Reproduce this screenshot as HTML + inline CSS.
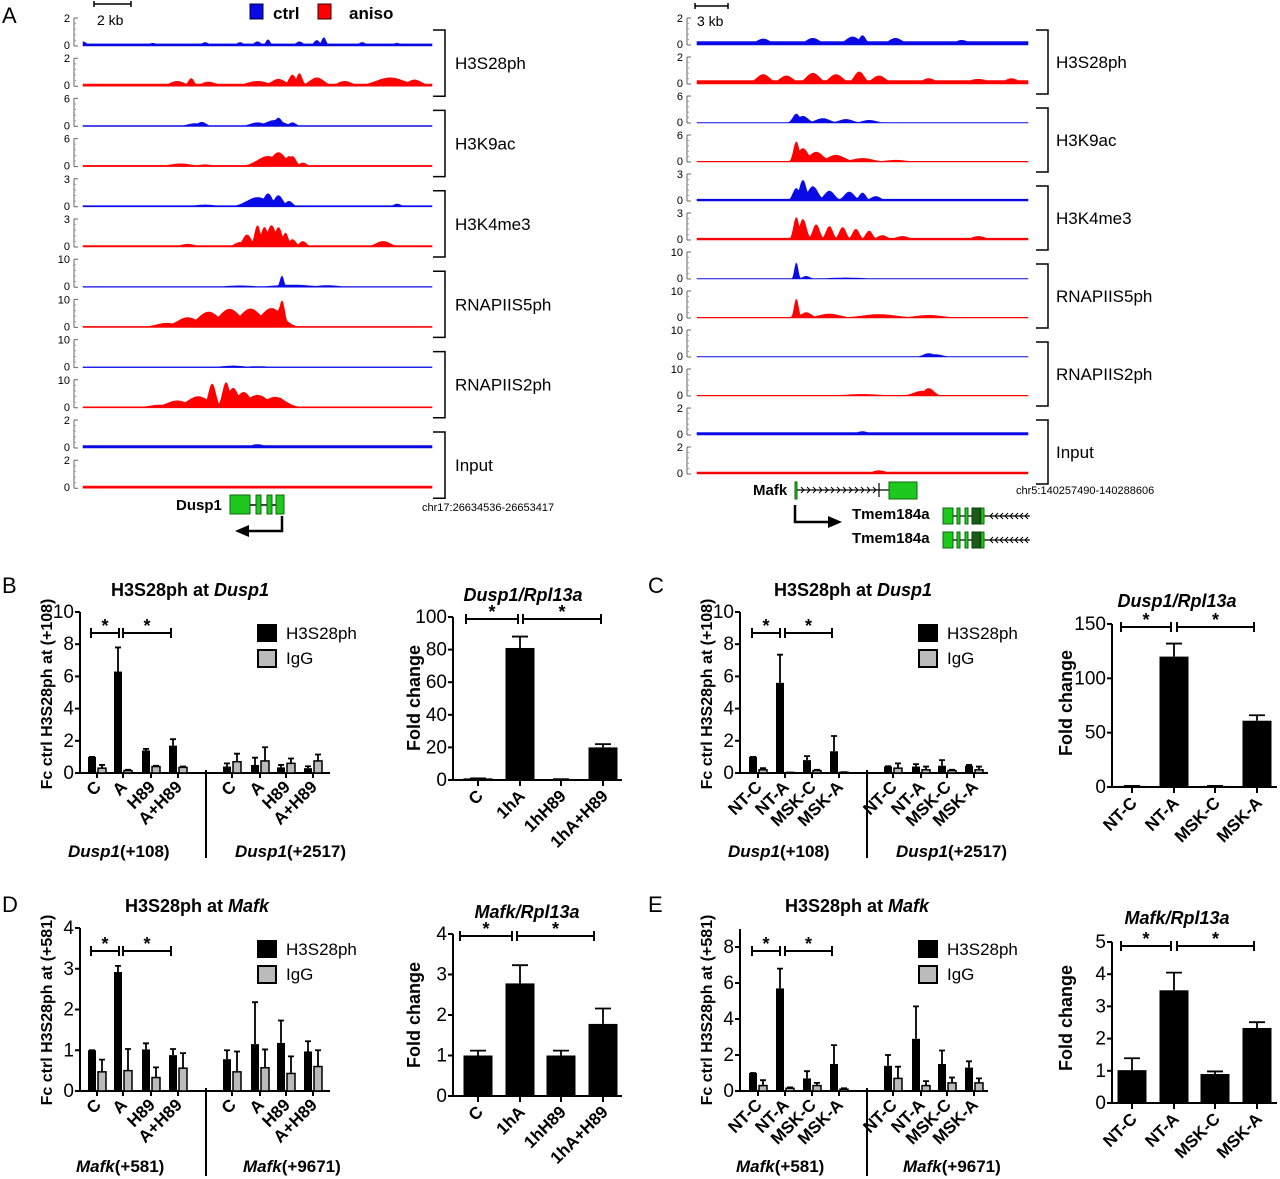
<!DOCTYPE html>
<html><head><meta charset="utf-8"><style>
body{margin:0;background:#fff}
svg{display:block;font-family:"Liberation Sans",Arial,sans-serif}
</style></head><body>
<svg id="fig" width="1280" height="1179" viewBox="0 0 1280 1179" xmlns="http://www.w3.org/2000/svg">
<rect width="1280" height="1179" fill="#fff"/>
<g font-size="22">
<text x="2" y="23">A</text>
<text x="2" y="593">B</text>
<text x="648" y="593">C</text>
<text x="2" y="912">D</text>
<text x="648" y="912">E</text>
</g>
<g font-weight="bold" font-size="17">
<rect x="250" y="4" width="13" height="15" fill="#0a0ae6" stroke="#003"/>
<text x="273" y="19">ctrl</text>
<rect x="318" y="4" width="13" height="15" fill="#f00" stroke="#300"/>
<text x="349" y="19">aniso</text>
</g>
<g font-size="14">
<path d="M94 4H131M94 1V7M131 1V7" stroke="#000" stroke-width="1.5" fill="none"/>
<text x="97" y="25">2 kb</text>
<path d="M695 6H728M695 3V9M728 3V9" stroke="#000" stroke-width="1.5" fill="none"/>
<text x="697" y="26">3 kb</text>
</g>
<g id="tracks"></g>
<g>
<text x="176" y="510" font-weight="bold" font-size="15">Dusp1</text>
<path d="M250 505H276" stroke="#000" stroke-width="1.5"/>
<rect x="230" y="495" width="20" height="19" fill="#1ec81e" stroke="#0a6a0a"/>
<rect x="256" y="495" width="5" height="19" fill="#1ec81e" stroke="#0a6a0a"/>
<rect x="267" y="495" width="5" height="19" fill="#1ec81e" stroke="#0a6a0a"/>
<rect x="276" y="495" width="8" height="19" fill="#1ec81e" stroke="#0a6a0a"/>
<path d="M282 516V531H247" stroke="#000" stroke-width="2.5" fill="none"/>
<path d="M235 531L249 525V537Z" fill="#000"/>
<text x="422" y="511" font-size="11">chr17:26634536-26653417</text>
<text x="753" y="495" font-weight="bold" font-size="15">Mafk</text>
<path d="M797 490H889M879 483V497" stroke="#000" stroke-width="1.2"/>
<path id="mafkChev" d="" stroke="#000" stroke-width="1" fill="none"/>
<rect x="795" y="482" width="2" height="17" fill="#1ec81e" stroke="#0a6a0a"/>
<rect x="889" y="482" width="28" height="17" fill="#1ec81e" stroke="#0a6a0a"/>
<path d="M795 505V522H830" stroke="#000" stroke-width="2.5" fill="none"/>
<path d="M842 522L828 516V528Z" fill="#000"/>
<text x="1016" y="494" font-size="11">chr5:140257490-140288606</text>
<text x="852" y="519" font-weight="bold" font-size="15">Tmem184a</text>
<text x="852" y="543" font-weight="bold" font-size="15">Tmem184a</text>
<g id="tmem"></g>
</g>
<g id="charts"></g>
</svg>
<script>
// ---------- genome track data: peaks [position 0-1, height, width] ----------
const trackLabels = ["H3S28ph","H3K9ac","H3K4me3","RNAPIIS5ph","RNAPIIS2ph","Input"];
const trackMax = [2,6,3,10,10,2];
const leftBase = [[.15,.15],[.2,.25],[.12,.15],[.25,.35],[.25,.35],[.18,.15]];
const leftPeaksCtrl = [
 [[.0,.3,.01],[.2,.2,.01],[.35,.25,.01],[.45,.25,.01],[.5,.3,.01],[.53,.45,.006],[.62,.3,.01],[.67,.4,.008],[.69,.6,.006],[.8,.25,.01],[.9,.2,.01]],
 [[.32,.6,.02],[.34,.9,.012],[.5,.8,.02],[.55,1.3,.025],[.56,1.8,.01],[.6,.8,.01]],
 [[.5,1.0,.03],[.53,1.4,.012],[.56,1.2,.012],[.59,.6,.01],[.35,.2,.03],[.9,.3,.01]],
 [[.45,.5,.04],[.6,.8,.05],[.7,.6,.03],[.57,4,.005]],
 [[.43,.6,.03],[.5,.4,.03]],
 [[.5,.25,.02]]];
const leftPeaksAniso = [
 [[.27,.35,.02],[.31,.55,.008],[.36,.3,.02],[.5,.35,.03],[.56,.5,.02],[.6,.8,.01],[.62,.9,.008],[.67,.6,.02],[.75,.35,.02],[.88,.6,.04],[.95,.45,.02]],
 [[.28,.6,.03],[.35,.4,.02],[.53,2.2,.03],[.56,3.0,.02],[.59,2.2,.01],[.6,2.2,.01],[.63,.8,.01]],
 [[.3,.3,.02],[.45,.5,.015],[.47,1.3,.012],[.5,2.3,.008],[.52,2.1,.01],[.54,2.3,.012],[.56,2.1,.01],[.58,1.5,.008],[.6,.8,.01],[.63,.6,.01],[.86,.6,.02]],
 [[.24,1.5,.03],[.3,3.5,.03],[.36,5.5,.03],[.42,6.5,.03],[.48,6.6,.03],[.54,6.8,.03],[.57,9.5,.008],[.565,7,.01]],
 [[.22,1.0,.03],[.27,2.5,.03],[.33,4,.03],[.37,8.5,.01],[.41,9,.01],[.43,7,.015],[.46,5.5,.02],[.5,4.5,.03],[.55,3.8,.03],[.565,3.5,.01]],
 [[.5,.15,.02]]];
const rightBase = [[.25,.25],[.12,.15],[.2,.2],[.2,.25],[.15,.25],[.18,.15]];
const rightPeaksCtrl = [
 [[.2,.45,.02],[.35,.5,.02],[.47,.6,.02],[.5,.7,.01],[.6,.5,.02],[.8,.35,.02]],
 [[.3,2,.01],[.32,1.5,.015],[.38,1.0,.02],[.45,.8,.02],[.52,.6,.02]],
 [[.3,1.4,.01],[.32,2.3,.01],[.35,1.6,.015],[.4,1.1,.015],[.46,1.0,.015],[.5,.9,.01],[.54,.5,.015]],
 [[.3,6,.005],[.33,1,.01],[.45,.4,.05]],
 [[.7,1.3,.015],[.72,.9,.02]],
 [[.5,.25,.02]]];
const rightPeaksAniso = [
 [[.2,.7,.02],[.27,.6,.02],[.35,.8,.02],[.42,.7,.02],[.49,.9,.015],[.55,.6,.02],[.7,.4,.02],[.85,.35,.03],[.95,.4,.02]],
 [[.3,4.5,.008],[.32,3,.015],[.36,2.2,.02],[.42,1.5,.025],[.5,.8,.03],[.6,.4,.03]],
 [[.3,2.5,.008],[.32,2.3,.01],[.36,1.7,.01],[.4,1.5,.01],[.44,1.4,.01],[.48,1.2,.01],[.52,1.0,.01],[.56,.5,.015],[.62,.4,.02],[.85,.4,.02]],
 [[.3,7,.006],[.33,2,.015],[.4,1.5,.03],[.55,1.3,.05],[.7,1,.04]],
 [[.7,2.8,.015],[.68,1.8,.025],[.5,.6,.05]],
 [[.55,.25,.02]]];

// ---------- bar chart data ----------
const grpLabelsB = ["C","A","H89","A+H89","C","A","H89","A+H89"];
const grpLabelsC = ["NT-C","NT-A","MSK-C","MSK-A","NT-C","NT-A","MSK-C","MSK-A"];
const bBlack = [1.0,6.3,1.4,1.7,0.4,0.5,0.35,0.3];
const bBlackErr = [0,1.5,0.1,0.4,0.2,0.45,0.15,0.12];
const bIgg = [0.3,0.15,0.4,0.35,0.7,0.75,0.6,0.75];
const bIggErr = [0.2,0.05,0.05,0.05,0.5,0.85,0.3,0.4];
const cBlack = [1.0,5.6,0.8,1.35,0.4,0.4,0.45,0.45];
const cBlackErr = [0,1.75,0.25,0.95,0.02,0.15,0.35,0.05];
const cIgg = [0.2,0.03,0.15,0.05,0.3,0.2,0.15,0.2];
const cIggErr = [0.1,0,0.05,0,0.3,0.2,0.05,0.2];
const dBlack = [1.0,2.92,1.02,0.88,0.78,1.15,1.18,0.97];
const dBlackErr = [0,0.15,0.15,0.15,0.22,1.03,0.55,0.25];
const dIgg = [0.47,0.5,0.33,0.56,0.47,0.57,0.43,0.6];
const dIggErr = [0.3,0.53,0.25,0.37,0.5,0.45,0.42,0.4];
const eBlack = [1.0,5.7,0.7,1.5,1.4,2.9,1.5,1.3];
const eBlackErr = [0,1.1,0.4,1.05,0.6,1.8,0.75,0.35];
const eIgg = [0.3,0.15,0.3,0.1,0.7,0.3,0.45,0.45];
const eIggErr = [0.3,0.05,0.15,0.05,0.65,0.25,0.3,0.25];
const fcLabelsB = ["C","1hA","1hH89","1hA+H89"];
const fcLabelsC = ["NT-C","NT-A","MSK-C","MSK-A"];
const fcB = [1,81,0.5,20]; const fcBErr = [0,7,0,2];
const fcC = [1,120,1,61]; const fcCErr = [0,12,0,5];
const fcD = [1.0,2.78,1.0,1.78]; const fcDErr = [0.12,0.45,0.12,0.38];
const fcE = [1.02,3.5,0.9,2.33]; const fcEErr = [0.37,0.55,0.08,0.18];

const NS="http://www.w3.org/2000/svg";
function mk(tag,attrs,parent){const e=document.createElementNS(NS,tag);for(const k in attrs)e.setAttribute(k,attrs[k]);parent.appendChild(e);return e;}
const tracksG=document.getElementById('tracks');
const chartsG=document.getElementById('charts');

function drawTrack(x0,x1,yZero,h,max,color,base,peaks,axisX,name){
  const g=mk('g',{},tracksG);
  
  
  const sy=v=>yZero-v/max*h;
  let d=`M${x0} ${yZero}`;
  for(let x=x0;x<=x1;x++){
    const f=(x-x0)/(x1-x0);
    let v=base;
    for(const p of peaks){const z=(f-p[0])/p[2];v=Math.max(v,p[1]*Math.exp(-z*z/2));}
    d+=`L${x} ${sy(v).toFixed(1)}`;
  }
  d+=`L${x1} ${yZero}Z`;
  const a=mk('path',{d:d,fill:color,stroke:color,'stroke-width':0.6},g);
  
  
  mk('path',{d:`M${axisX} ${yZero-h}V${yZero}M${axisX} ${yZero-h}H${axisX+4}M${axisX} ${yZero}H${axisX+4}`,stroke:'#666','stroke-width':1,fill:'none'},g);
  for(let i=1;i<5;i++) mk('line',{x1:axisX,x2:axisX+2,y1:yZero-h*i/5,y2:yZero-h*i/5,stroke:'#999'},g);
  const t1=mk('text',{x:axisX-4,y:yZero-h+4,'font-size':11,'text-anchor':'end'},g); t1.textContent=max;
  
  
  const t0=mk('text',{x:axisX-4,y:yZero+3,'font-size':11,'text-anchor':'end'},g); t0.textContent='0';
  
  
}
function drawPanelTracks(x0,x1,axisX,zero0,pitch,h,base,pc,pa,brX,labX,side){
  for(let i=0;i<6;i++){
    const zc=zero0+pitch*(2*i), za=zero0+pitch*(2*i+1);
    drawTrack(x0,x1,zc,h,trackMax[i],'#0a0ae6',base[i][0],pc[i],axisX,side+'-'+trackLabels[i].toLowerCase()+'-ctrl');
    drawTrack(x0,x1,za,h,trackMax[i],'#f00',base[i][1],pa[i],axisX,side+'-'+trackLabels[i].toLowerCase()+'-aniso');
    const top=zc-h+12, bot=za+10;
    mk('path',{d:`M${brX} ${top}H${brX+12}V${bot}H${brX}`,stroke:'#000','stroke-width':1.5,fill:'none'},tracksG);
    const t=mk('text',{x:labX,y:(top+bot)/2+6,'font-size':17},tracksG); t.textContent=trackLabels[i];
    
    
  }
}
drawPanelTracks(83,432,74,46,40.2,28,leftBase,leftPeaksCtrl,leftPeaksAniso,433,455,'left');
drawPanelTracks(697,1028,687,45,39.0,27,rightBase,rightPeaksCtrl,rightPeaksAniso,1036,1056,'right');

(function(){
  let d='';for(let x=801;x<876;x+=6)d+=`M${x} 487L${x+3} 490L${x} 493`;
  document.getElementById('mafkChev').setAttribute('d',d);
  const tg=document.getElementById('tmem');
  [516,540].forEach(yc=>{
    mk('path',{d:`M952 ${yc}H1030`,stroke:'#000','stroke-width':1.2},tg);
    let c='';for(let x=990;x<1030;x+=5)c+=`M${x+3} ${yc-3}L${x} ${yc}L${x+3} ${yc+3}`;
    mk('path',{d:c,stroke:'#000','stroke-width':1,fill:'none'},tg);
    mk('rect',{x:943,y:yc-8,width:10,height:16,fill:'#1ec81e',stroke:'#0a6a0a'},tg);
    mk('rect',{x:957,y:yc-8,width:3,height:16,fill:'#1ec81e',stroke:'#0a6a0a'},tg);
    mk('rect',{x:965,y:yc-8,width:3,height:16,fill:'#1ec81e',stroke:'#0a6a0a'},tg);
    mk('rect',{x:972,y:yc-8,width:8,height:16,fill:'#1a5a1a',stroke:'#0a3a0a'},tg);
    mk('rect',{x:981,y:yc-8,width:3,height:16,fill:'#1ec81e',stroke:'#0a6a0a'},tg);
  });
})();

function axisY(g,ax,y0,yT,vmax,ticks,fs){
  const sy=v=>y0-(v/vmax)*(y0-yT);
  mk('line',{x1:ax,x2:ax,y1:sy(ticks[ticks.length-1]),y2:y0,stroke:'#000','stroke-width':2},g);
  ticks.forEach(v=>{
    mk('line',{x1:ax-5,x2:ax,y1:sy(v),y2:sy(v),stroke:'#000','stroke-width':2},g);
    const t=mk('text',{x:ax-6,y:sy(v)+6,'font-size':fs,'text-anchor':'end'},g); t.textContent=v;
    
    
  });
  return sy;
}
function errBar(g,cx,yTop,yErr,hw){
  mk('path',{d:`M${cx} ${yTop}V${yErr}M${cx-hw} ${yErr}H${cx+hw}`,stroke:'#000','stroke-width':1.8,fill:'none'},g);
}
function sig(g,segs,y){
  segs.forEach(s=>{
    mk('path',{d:`M${s[0]} ${y}H${s[1]}M${s[0]} ${y-5}V${y+5}M${s[1]} ${y-5}V${y+5}`,stroke:'#000','stroke-width':2,fill:'none'},g);
    const t=mk('text',{x:(s[0]+s[1])/2,y:y-1,'font-size':18,'font-weight':'bold','text-anchor':'middle'},g); t.textContent='*';
    
    
  });
}
function txt(g,x,y,html,attrs,name){
  const t=mk('text',Object.assign({x:x,y:y},attrs),g); t.innerHTML=html;
  
  
  return t;
}
function grouped(cfg){
  const g=mk('g',{},chartsG);
  
  
  const sy=axisY(g,cfg.ax,cfg.y0,cfg.yT,cfg.vmax,cfg.ticks,19);
  mk('line',{x1:cfg.ax,x2:cfg.axEnd,y1:cfg.y0,y2:cfg.y0,stroke:'#000','stroke-width':2},g);
  cfg.centers.forEach((c,i)=>{
    errBar(g,c,sy(cfg.black[i]),sy(cfg.black[i]+cfg.blackErr[i]),3);
    const b=mk('rect',{x:c-4,y:sy(cfg.black[i]),width:8,height:cfg.y0-sy(cfg.black[i]),fill:'#000'},g);
    
    
    errBar(g,c+10,sy(cfg.igg[i]),sy(cfg.igg[i]+cfg.iggErr[i]),3);
    const r=mk('rect',{x:c+6,y:sy(cfg.igg[i]),width:8,height:Math.max(0,cfg.y0-sy(cfg.igg[i])),fill:'#bbb',stroke:'#000','stroke-width':1.5},g);
    
    
    mk('line',{x1:c+5,x2:c+5,y1:cfg.y0,y2:cfg.y0+5,stroke:'#000','stroke-width':2},g);
    txt(g,c+10,cfg.y0+15,cfg.labels[i],{'font-size':17,'font-weight':'bold','text-anchor':'end',transform:`rotate(-45 ${c+10} ${cfg.y0+15})`},'x-tick-label');
  });
  mk('line',{x1:cfg.div,x2:cfg.div,y1:cfg.y0-3,y2:cfg.y0+85,stroke:'#000','stroke-width':2},g);
  sig(g,cfg.sig,cfg.sigY);
  mk('rect',{x:cfg.legX,y:cfg.legY,width:20,height:18,fill:'#000'},g);
  mk('rect',{x:cfg.legX+1,y:cfg.legY+26,width:18,height:17,fill:'#bbb',stroke:'#000','stroke-width':2},g);
  txt(g,cfg.legX+29,cfg.legY+15,'H3S28ph',{'font-size':17},'legend-h3s28ph');
  txt(g,cfg.legX+29,cfg.legY+40,'IgG',{'font-size':17},'legend-igg');
  txt(g,cfg.titleX,cfg.titleY,'H3S28ph at <tspan font-style="italic">'+cfg.gene+'</tspan>',{'font-size':18,'font-weight':'bold','text-anchor':'middle'},'chart-title');
  txt(g,cfg.ylabX,cfg.ylabY,cfg.ylab,{'font-size':16,'font-weight':'bold','text-anchor':'middle',transform:`rotate(-90 ${cfg.ylabX} ${cfg.ylabY})`},'y-axis-title');
  txt(g,cfg.grp1X,cfg.grpY,'<tspan font-style="italic">'+cfg.gene+'</tspan>'+cfg.grp1,{'font-size':17,'font-weight':'bold'},'group-label-1');
  txt(g,cfg.grp2X,cfg.grpY,'<tspan font-style="italic">'+cfg.gene+'</tspan>'+cfg.grp2,{'font-size':17,'font-weight':'bold'},'group-label-2');
}
function simple(cfg){
  const g=mk('g',{},chartsG);
  
  
  const sy=axisY(g,cfg.ax,cfg.y0,cfg.yT,cfg.vmax,cfg.ticks,19);
  mk('line',{x1:cfg.ax,x2:cfg.axEnd,y1:cfg.y0,y2:cfg.y0,stroke:'#000','stroke-width':2},g);
  cfg.centers.forEach((c,i)=>{
    errBar(g,c,sy(cfg.vals[i]),sy(cfg.vals[i]+cfg.errs[i]),8);
    const b=mk('rect',{x:c-14.5,y:sy(cfg.vals[i]),width:29,height:Math.max(1.5,cfg.y0-sy(cfg.vals[i])),fill:'#000'},g);
    
    
    mk('line',{x1:c,x2:c,y1:cfg.y0,y2:cfg.y0+6,stroke:'#000','stroke-width':2},g);
    txt(g,c+6,cfg.y0+17,cfg.labels[i],{'font-size':17,'font-weight':'bold','text-anchor':'end',transform:`rotate(-45 ${c+6} ${cfg.y0+17})`},'x-tick-label');
  });
  sig(g,cfg.sig,cfg.sigY);
  txt(g,cfg.titleX,cfg.titleY,cfg.title,{'font-size':18,'font-weight':'bold','font-style':'italic','text-anchor':'middle'},'chart-title');
  txt(g,cfg.ylabX,cfg.ylabY,'Fold change',{'font-size':18,'font-weight':'bold','text-anchor':'middle',transform:`rotate(-90 ${cfg.ylabX} ${cfg.ylabY})`},'y-axis-title');
}
const cB=[92,118,146,173,227,255,281,308], cC=[753,780,807,834,888,916,942,969];
grouped({name:'chart-b-chip',ax:80,axEnd:330,y0:773,yT:612,vmax:10,ticks:[0,2,4,6,8,10],centers:cB,black:bBlack,blackErr:bBlackErr,igg:bIgg,iggErr:bIggErr,labels:grpLabelsB,div:206,sig:[[91,119],[123,171]],sigY:633,legX:257,legY:624,titleX:190,titleY:596,gene:'Dusp1',ylab:'Fc ctrl H3S28ph at (+108)',ylabX:52,ylabY:694,grp1X:68,grp2X:235,grpY:857,grp1:'(+108)',grp2:'(+2517)'});
grouped({name:'chart-c-chip',ax:740,axEnd:988,y0:773,yT:612,vmax:10,ticks:[0,2,4,6,8,10],centers:cC,black:cBlack,blackErr:cBlackErr,igg:cIgg,iggErr:cIggErr,labels:grpLabelsC,div:867,sig:[[752,780],[785,832]],sigY:633,legX:918,legY:624,titleX:853,titleY:596,gene:'Dusp1',ylab:'Fc ctrl H3S28ph at (+108)',ylabX:712,ylabY:694,grp1X:728,grp2X:896,grpY:857,grp1:'(+108)',grp2:'(+2517)'});
grouped({name:'chart-d-chip',ax:80,axEnd:330,y0:1091,yT:928,vmax:4,ticks:[0,1,2,3,4],centers:cB,black:dBlack,blackErr:dBlackErr,igg:dIgg,iggErr:dIggErr,labels:grpLabelsB,div:206,sig:[[91,119],[123,171]],sigY:951,legX:257,legY:940,titleX:197,titleY:912,gene:'Mafk',ylab:'Fc ctrl H3S28ph at (+581)',ylabX:52,ylabY:1010,grp1X:76,grp2X:243,grpY:1172,grp1:'(+581)',grp2:'(+9671)'});
grouped({name:'chart-e-chip',ax:740,axEnd:988,y0:1091,yT:947,vmax:8,ticks:[0,2,4,6,8],centers:cC,black:eBlack,blackErr:eBlackErr,igg:eIgg,iggErr:eIggErr,labels:grpLabelsC,div:867,sig:[[752,780],[785,832]],sigY:951,legX:918,legY:940,titleX:857,titleY:912,gene:'Mafk',ylab:'Fc ctrl H3S28ph at (+581)',ylabX:712,ylabY:1010,grp1X:736,grp2X:903,grpY:1172,grp1:'(+581)',grp2:'(+9671)'});
mk('line',{x1:740,x2:740,y1:929,y2:947,stroke:'#000','stroke-width':2},chartsG);
simple({name:'chart-b-expression',ax:453,axEnd:622,y0:780,yT:617,vmax:100,ticks:[0,20,40,60,80,100],centers:[478,520,561,603],vals:fcB,errs:fcBErr,labels:fcLabelsB,sig:[[466,518],[523,601]],sigY:619,titleX:523,titleY:601,title:'Dusp1/Rpl13a',ylabX:420,ylabY:698});
simple({name:'chart-c-expression',ax:1112,axEnd:1277,y0:787,yT:624,vmax:150,ticks:[0,50,100,150],centers:[1132,1174,1215,1257],vals:fcC,errs:fcCErr,labels:fcLabelsC,sig:[[1121,1171],[1177,1254]],sigY:627,titleX:1177,titleY:607,title:'Dusp1/Rpl13a',ylabX:1072,ylabY:703});
simple({name:'chart-d-expression',ax:453,axEnd:622,y0:1096,yT:934,vmax:4,ticks:[0,1,2,3,4],centers:[478,520,561,603],vals:fcD,errs:fcDErr,labels:fcLabelsB,sig:[[460,512],[517,594]],sigY:936,titleX:527,titleY:918,title:'Mafk/Rpl13a',ylabX:420,ylabY:1015});
simple({name:'chart-e-expression',ax:1112,axEnd:1277,y0:1103,yT:942,vmax:5,ticks:[0,1,2,3,4,5],centers:[1132,1174,1215,1257],vals:fcE,errs:fcEErr,labels:fcLabelsC,sig:[[1121,1171],[1177,1254]],sigY:946,titleX:1177,titleY:924,title:'Mafk/Rpl13a',ylabX:1072,ylabY:1018});
</script>
</body></html>
